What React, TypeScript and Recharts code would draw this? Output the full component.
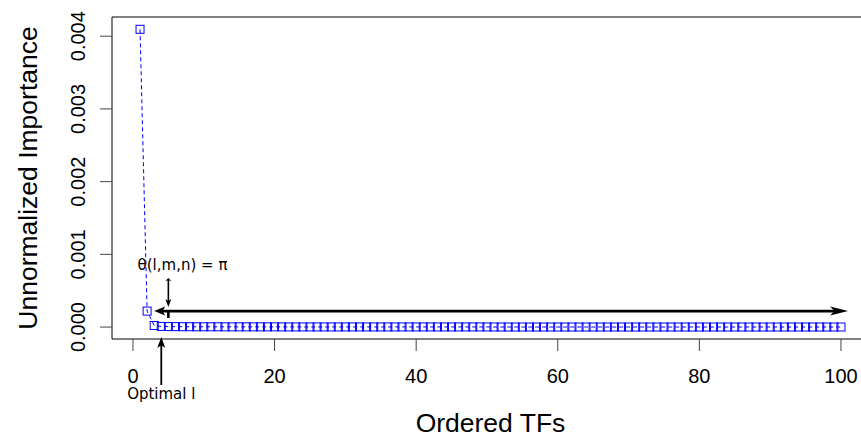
import React from 'react';
import {
  LineChart,
  Line,
  XAxis,
  YAxis,
  ReferenceArea,
  ReferenceLine,
  ReferenceDot,
  Label,
} from 'recharts';

// importance of each TF, ordered (rank 1..100)
const importance = [
  0.004095, 0.00022, 0.000022, 0.000009, 0.000007, 0.000006, 0.000005, 0.000005, 0.000004, 0.000004,
  0.000004, 0.000004, 0.000003, 0.000003, 0.000003, 0.000003, 0.000003, 0.000003, 0.000003, 0.000003,
  0.000003, 0.000002, 0.000002, 0.000002, 0.000002, 0.000002, 0.000002, 0.000002, 0.000002, 0.000002,
  0.000002, 0.000002, 0.000002, 0.000002, 0.000002, 0.000002, 0.000002, 0.000002, 0.000002, 0.000002,
  0.000002, 0.000002, 0.000002, 0.000002, 0.000002, 0.000002, 0.000002, 0.000002, 0.000002, 0.000002,
  0.000001, 0.000001, 0.000001, 0.000001, 0.000001, 0.000001, 0.000001, 0.000001, 0.000001, 0.000001,
  0.000001, 0.000001, 0.000001, 0.000001, 0.000001, 0.000001, 0.000001, 0.000001, 0.000001, 0.000001,
  0.000001, 0.000001, 0.000001, 0.000001, 0.000001, 0.000001, 0.000001, 0.000001, 0.000001, 0.000001,
  0.000001, 0.000001, 0.000001, 0.000001, 0.000001, 0.000001, 0.000001, 0.000001, 0.000001, 0.000001,
  0.000001, 0.000001, 0.000001, 0.000001, 0.000001, 0.000001, 0.000001, 0.000001, 0.000001, 0.000001,
];
const xTicks = [0, 20, 40, 60, 80, 100];
const yTicks = [0, 0.001, 0.002, 0.003, 0.004];
const optimalL = 4;
const thetaX = 5;

const data = importance.map((v, i) => ({ rank: i + 1, value: v }));

// R style 4% padding around the data range
const xDomain = [-2.96, 103.96];
const yDomain = [-0.000164, 0.004264];

const axisFont = '"Liberation Sans", Arial, sans-serif';
const noteFont = '"DejaVu Sans", sans-serif';

const SquareDot = (props: any) => {
  const { cx, cy } = props;
  if (cx == null || cy == null) return null;
  return <rect x={cx - 4} y={cy - 4} width={8} height={8} fill="none" stroke="#0000ff" strokeWidth={1} />;
};

function head(tx: number, ty: number, dx: number, dy: number, len: number, half: number) {
  // dx,dy unit vector pointing in arrow direction
  const bx = tx - dx * len;
  const by = ty - dy * len;
  const nx = -dy;
  const ny = dx;
  const notchX = tx - dx * len * 0.75;
  const notchY = ty - dy * len * 0.75;
  return `${tx},${ty} ${bx + nx * half},${by + ny * half} ${notchX},${notchY} ${bx - nx * half},${by - ny * half}`;
}

const arrowShape =
  (width: number, startHead: number, endHead: number, half: number) => (p: any) => {
    const { x1, y1, x2, y2 } = p;
    const len = Math.hypot(x2 - x1, y2 - y1) || 1;
    const dx = (x2 - x1) / len;
    const dy = (y2 - y1) / len;
    return (
      <g>
        <line
          x1={x1 + dx * startHead * 0.6}
          y1={y1 + dy * startHead * 0.6}
          x2={x2 - dx * endHead * 0.6}
          y2={y2 - dy * endHead * 0.6}
          stroke="#000"
          strokeWidth={width}
        />
        {startHead > 0 && <polygon points={head(x1, y1, -dx, -dy, startHead, half)} fill="#000" />}
        {endHead > 0 && <polygon points={head(x2, y2, dx, dy, endHead, half)} fill="#000" />}
      </g>
    );
  };

const noteText = (text: string) => (p: any) => (
  <text x={p.cx} y={p.cy} textAnchor="middle" fontFamily={noteFont} fontSize={15} fill="#000">
    {text}
  </text>
);

const XTick = (props: any) => {
  const { x, y, payload } = props;
  return (
    <text x={x} y={y} textAnchor="middle" fontFamily={axisFont} fontSize={20} fill="#000">
      {payload.value}
    </text>
  );
};

const YTick = (props: any) => {
  const { x, y, payload } = props;
  return (
    <text
      x={x}
      y={y}
      transform={`rotate(-90, ${x}, ${y})`}
      textAnchor="middle"
      fontFamily={axisFont}
      fontSize={20}
      fill="#000"
    >
      {payload.value.toFixed(3)}
    </text>
  );
};

export default function App() {
  return (
    <div style={{ position: 'absolute', left: 0, top: 0, width: 861, height: 439, overflow: 'hidden', background: '#fff' }}>
      <LineChart width={880} height={439} data={data} margin={{ top: 17, right: 11, bottom: 0, left: 0 }}>
        <XAxis
          dataKey="rank"
          type="number"
          domain={xDomain}
          ticks={xTicks}
          allowDataOverflow
          axisLine={false}
          tickSize={12}
          tickMargin={32}
          height={100}
          stroke="#444"
          tick={<XTick />}
        >
          <Label
            content={() => (
              <text x={490.5} y={432} textAnchor="middle" fontFamily={axisFont} fontSize={26.5} fill="#000">
                Ordered TFs
              </text>
            )}
          />
        </XAxis>
        <YAxis
          type="number"
          domain={yDomain}
          ticks={yTicks}
          allowDataOverflow
          axisLine={false}
          tickSize={12}
          tickMargin={15}
          width={112}
          stroke="#444"
          tick={<YTick />}
        >
          <Label
            content={() => (
              <text
                x={37}
                y={178}
                transform="rotate(-90, 37, 178)"
                textAnchor="middle"
                fontFamily={axisFont}
                fontSize={26.5}
                fill="#000"
              >
                Unnormalized Importance
              </text>
            )}
          />
        </YAxis>
        <ReferenceArea
          x1={xDomain[0]}
          x2={xDomain[1]}
          y1={yDomain[0]}
          y2={yDomain[1]}
          fill="none"
          stroke="#000"
          strokeWidth={1}
          ifOverflow="visible"
        />
        <Line
          dataKey="value"
          stroke="#0000ff"
          strokeWidth={1}
          strokeDasharray="4 3"
          dot={<SquareDot />}
          activeDot={false}
          isAnimationActive={false}
        />
        {/* theta(l,m,n) = pi range arrow */}
        <ReferenceLine
          segment={[{ x: 3, y: importance[1] }, { x: 101, y: importance[1] }]}
          ifOverflow="visible"
          shape={arrowShape(2.6, 11, 18, 4.5)}
        />
        <ReferenceLine
          segment={[{ x: thetaX, y: 0.000675 }, { x: thetaX, y: 0.000276 }]}
          ifOverflow="visible"
          shape={arrowShape(1.6, 3, 8, 3)}
        />
        <ReferenceLine
          segment={[{ x: thetaX, y: 0.000221 }, { x: thetaX, y: 0.000125 }]}
          ifOverflow="visible"
          shape={arrowShape(2.6, 0, 0, 0)}
        />
        <ReferenceDot x={7} y={0.000785} ifOverflow="visible" shape={noteText('θ(l,m,n) = π')} />
        {/* optimal l marker under the axis */}
        <ReferenceLine
          segment={[{ x: optimalL, y: -0.000797 }, { x: optimalL, y: -0.0001365 }]}
          ifOverflow="visible"
          shape={arrowShape(1.8, 0, 11, 4)}
        />
        <ReferenceDot x={optimalL} y={-0.000989} ifOverflow="visible" shape={noteText('Optimal l')} />
      </LineChart>
    </div>
  );
}
